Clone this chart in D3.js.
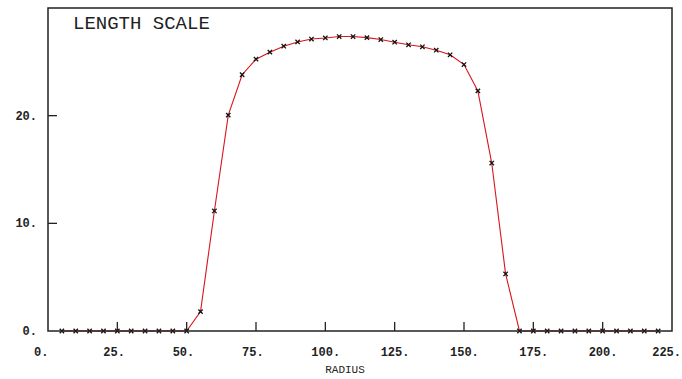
<!DOCTYPE html>
<html>
<head>
<meta charset="utf-8">
<script src="https://cdn.jsdelivr.net/npm/d3@7"></script>
<style>
  body { margin: 0; background: #fff; }
  svg { display: block; }
</style>
</head>
<body>
<svg id="chart" width="682" height="379"></svg>
<script>
// radius stations and the length scale read at each one
const radius = [5, 10, 15, 20, 25, 30, 35, 40, 45, 50, 55, 60, 65, 70, 75, 80, 85, 90,
  95, 100, 105, 110, 115, 120, 125, 130, 135, 140, 145, 150, 155, 160, 165, 170,
  175, 180, 185, 190, 195, 200, 205, 210, 215, 220];
const lengthScale = [0, 0, 0, 0, 0, 0, 0, 0, 0, 0, 1.8, 11.15, 20.05, 23.8, 25.25, 25.9,
  26.45, 26.85, 27.12, 27.22, 27.35, 27.35, 27.25, 27.07, 26.82, 26.58, 26.4, 26.08,
  25.65, 24.75, 22.3, 15.6, 5.3, 0, 0, 0, 0, 0, 0, 0, 0, 0, 0, 0];
const xTicks = [0, 25, 50, 75, 100, 125, 150, 175, 200, 225];
const yTicks = [0, 10, 20];

const svg = d3.select("#chart");
const margin = { top: 8, right: 10, bottom: 48, left: 48 };
const width = 682, height = 379;
const x0 = margin.left, x1 = width - margin.right;
const y0 = height - margin.bottom, y1 = margin.top;

const x = d3.scaleLinear().domain([0, 225]).range([x0, x1]);
const y = d3.scaleLinear().domain([0, 30]).range([y0, y1]);
const mono = "'Liberation Mono', 'DejaVu Sans Mono', monospace";

const data = radius.map((r, i) => ({ r, v: lengthScale[i] }));

// curve
svg.append("path")
  .datum(data)
  .attr("fill", "none")
  .attr("stroke", "#d8141c")
  .attr("stroke-width", 1.1)
  .attr("d", d3.line().x(d => x(d.r)).y(d => y(d.v)));

// markers
svg.append("g")
  .selectAll("path")
  .data(data)
  .join("path")
  .attr("transform", d => `translate(${x(d.r)},${y(d.v)})`)
  .attr("d", d3.symbol().type(d3.symbolX).size(14))
  .attr("fill", "none")
  .attr("stroke", "#111")
  .attr("stroke-width", 1.3);

// frame
svg.append("rect")
  .attr("x", x0).attr("y", y1)
  .attr("width", x1 - x0).attr("height", y0 - y1)
  .attr("fill", "none")
  .attr("stroke", "#222")
  .attr("stroke-width", 1.5);

// inward ticks
svg.append("g")
  .selectAll("line")
  .data(xTicks.slice(1, -1))
  .join("line")
  .attr("x1", d => x(d)).attr("x2", d => x(d))
  .attr("y1", y0).attr("y2", y0 - 9)
  .attr("stroke", "#222").attr("stroke-width", 1.3);

svg.append("g")
  .selectAll("line")
  .data(yTicks.slice(1))
  .join("line")
  .attr("x1", x0).attr("x2", x0 + 9)
  .attr("y1", d => y(d)).attr("y2", d => y(d))
  .attr("stroke", "#222").attr("stroke-width", 1.3);

// tick labels (last one is pulled in so it stays on the page)
const lastTick = xTicks[xTicks.length - 1];
svg.append("g")
  .selectAll("text")
  .data(xTicks)
  .join("text")
  .attr("x", d => d === lastTick ? width - 1 : x(d) - 14)
  .attr("text-anchor", d => d === lastTick ? "end" : "start")
  .attr("y", y0 + 25)
  .attr("font-family", mono)
  .attr("font-size", 12)
  .attr("font-weight", "bold")
  .attr("fill", "#222")
  .text(d => d + ".");

svg.append("g")
  .selectAll("text")
  .data(yTicks)
  .join("text")
  .attr("x", 37)
  .attr("y", d => y(d) + 4)
  .attr("text-anchor", "end")
  .attr("font-family", mono)
  .attr("font-size", 12)
  .attr("font-weight", "bold")
  .attr("fill", "#222")
  .text(d => d + ".");

// axis title
svg.append("text")
  .attr("x", 345)
  .attr("y", 373)
  .attr("text-anchor", "middle")
  .attr("font-family", mono)
  .attr("font-size", 11)
  .attr("fill", "#222")
  .text("RADIUS");

// chart title
svg.append("text")
  .attr("x", 73)
  .attr("y", 29)
  .attr("font-family", mono)
  .attr("font-size", 19)
  .attr("fill", "#222")
  .text("LENGTH SCALE");
</script>
</body>
</html>
